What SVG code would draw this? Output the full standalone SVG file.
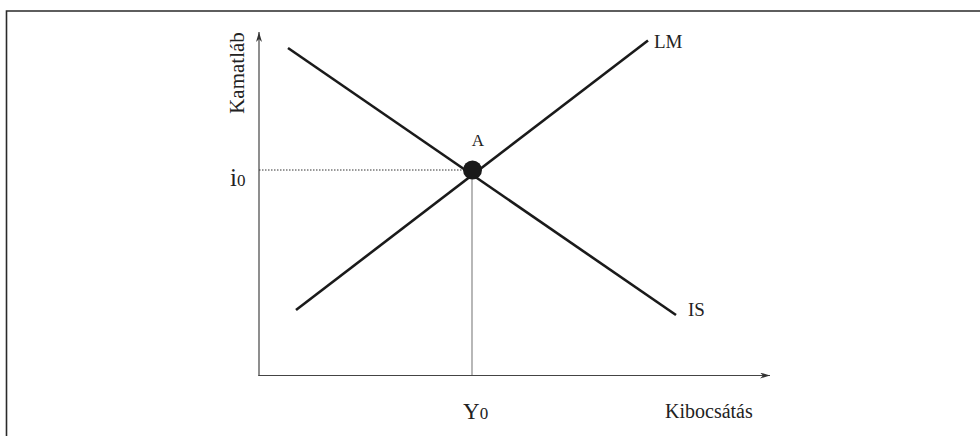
<svg xmlns="http://www.w3.org/2000/svg" width="980" height="436" viewBox="0 0 980 436">
<defs>
<style>
text{font-family:"Liberation Serif","Times New Roman","DejaVu Serif",serif;fill:#222}
.ax{stroke:#444;stroke-width:1.2;fill:none}
.cv{stroke:#1a1a1a;stroke-width:2.6;fill:none}
</style>
<marker id="arr" viewBox="0 0 10 6" refX="10" refY="3" markerWidth="10" markerHeight="6" markerUnits="userSpaceOnUse" orient="auto">
<path d="M0,0 L10,3 L0,6 L3,3 Z" fill="#333"/>
</marker>
</defs>
<rect width="980" height="436" fill="#fff"/>
<g id="frame"><path d="M6.5,436 V11 H980" stroke="#2a2a2a" stroke-width="1.6" fill="none"/></g>
<g id="axes">
<line class="ax" x1="259" y1="376" x2="259" y2="32" marker-end="url(#arr)"/>
<line class="ax" x1="258.4" y1="375.5" x2="770" y2="375.5" marker-end="url(#arr)"/>
</g>
<g id="connectors">
<line x1="259" y1="170" x2="472" y2="170" stroke="#333" stroke-width="1" stroke-dasharray="1.5,1.5"/>
<line x1="472" y1="170" x2="472" y2="375" stroke="#888" stroke-width="1.2"/>
</g>
<g id="IS"><line class="cv" x1="288" y1="48" x2="676" y2="315"/><text x="688" y="316" font-size="19" font-family="Liberation Serif, serif">IS</text></g>
<g id="LM"><line class="cv" x1="296" y1="310" x2="648" y2="40.5"/><text x="654" y="48" font-size="19" font-family="Liberation Serif, serif">LM</text></g>
<g id="A"><circle cx="472.5" cy="170" r="9.5" fill="#1a1a1a"/><text x="478" y="146" font-size="17" text-anchor="middle" font-family="Liberation Serif, serif">A</text></g>
<g id="labels">
<text font-size="21" transform="translate(244,73) rotate(-90)" text-anchor="middle" font-family="Liberation Serif, serif">Kamatláb</text>
<text x="230" y="186" font-size="25" font-family="Liberation Serif, serif">i<tspan font-size="17">0</tspan></text>
<text x="463" y="419" font-size="23" font-family="Liberation Serif, serif">Y<tspan font-size="17">0</tspan></text>
<text x="665" y="418" font-size="20" font-family="Liberation Serif, serif">Kibocsátás</text>
</g>
</svg>
